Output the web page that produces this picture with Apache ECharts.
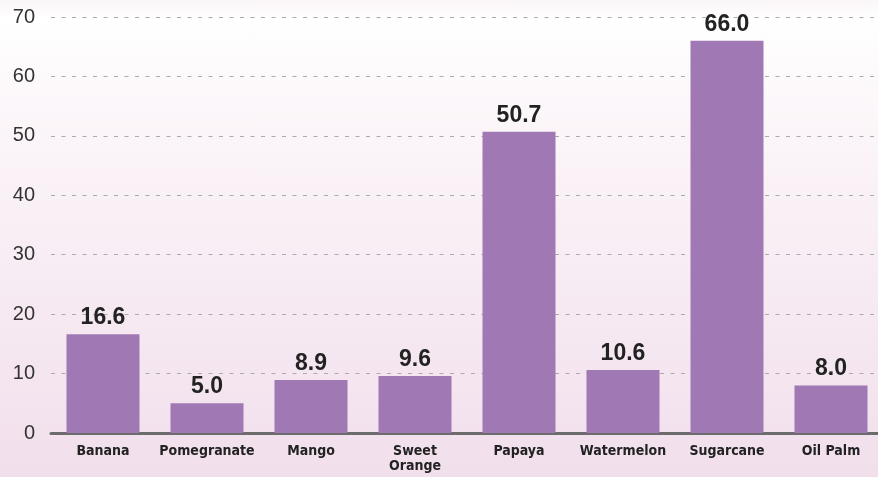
<!DOCTYPE html>
<html>
<head>
<meta charset="utf-8">
<script src="https://cdn.jsdelivr.net/npm/echarts@6/dist/echarts.min.js"></script>
<style>
  html, body { margin: 0; padding: 0; }
  #chart {
    width: 878px; height: 477px;
    background: linear-gradient(to bottom, #fbf6f9 0%, #ffffff 4%, #fbf4f8 30%, #f1dfec 100%);
  }
</style>
</head>
<body>
<div id="chart"></div>
<script>
// 作物数据
var crops = ['Banana', 'Pomegranate', 'Mango', 'Sweet\nOrange', 'Papaya', 'Watermelon', 'Sugarcane', 'Oil Palm'];
var values = [16.6, 5.0, 8.9, 9.6, 50.7, 10.6, 66.0, 8.0];
var yTicks = [0, 10, 20, 30, 40, 50, 60, 70];

var chart = echarts.init(document.getElementById('chart'), null, { renderer: 'canvas' });

var option = {
  backgroundColor: 'transparent',
  animation: false,
  grid: {
    left: 51,
    top: 17,
    right: -5,
    bottom: 44,
    outerBoundsMode: 'none',
    containLabel: false
  },
  xAxis: {
    type: 'category',
    data: crops,
    axisLine: {
      show: true,
      lineStyle: { color: '#6b6b6b', width: 3 }
    },
    axisTick: { show: false },
    axisLabel: {
      interval: 0,
      margin: 11,
      fontFamily: 'DejaVu Sans Condensed, sans-serif',
      fontWeight: 'bold',
      fontSize: 14,
      lineHeight: 15,
      color: '#222'
    }
  },
  yAxis: {
    type: 'value',
    min: yTicks[0],
    max: yTicks[yTicks.length - 1],
    interval: 10,
    axisLine: { show: false },
    axisTick: { show: false },
    axisLabel: {
      margin: 16,
      fontFamily: 'Liberation Sans, Helvetica, sans-serif',
      fontSize: 20,
      color: '#333'
    },
    splitLine: {
      show: true,
      lineStyle: { color: '#ababab', type: [4, 6.5], width: 1 }
    }
  },
  series: [{
    type: 'bar',
    data: values,
    barWidth: 73,
    itemStyle: { color: '#a079b4' },
    label: {
      show: true,
      position: 'top',
      distance: 5,
      fontFamily: 'Liberation Sans, Helvetica, sans-serif',
      fontWeight: 'bold',
      fontSize: 23,
      color: '#222',
      formatter: function (p) { return p.value.toFixed(1); }
    }
  }]
};
chart.setOption(option);
</script>
</body>
</html>
